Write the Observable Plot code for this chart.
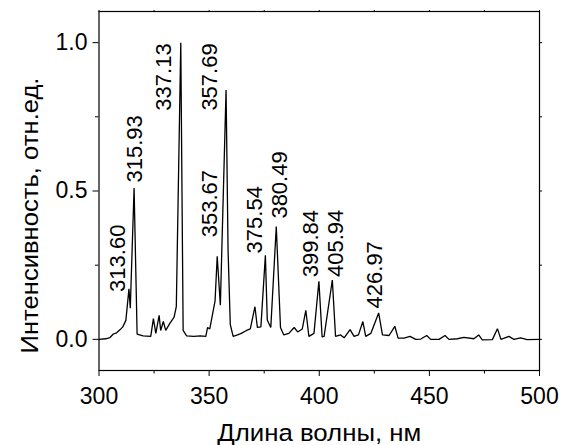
<!DOCTYPE html>
<html>
<head>
<meta charset="utf-8">
<script src="https://cdn.jsdelivr.net/npm/d3@7"></script>
<script src="https://cdn.jsdelivr.net/npm/@observablehq/plot@0.6"></script>
<style>
  html, body { margin: 0; padding: 0; background: #fff; }
</style>
</head>
<body>
<div id="chart"></div>
<script>
// Emission spectrum: wavelength (nm) and relative intensity
const wavelength = [
  300, 303, 305, 306.5, 308, 309.5, 310.8, 312.2, 313.60, 314.2,
  315.93, 317.3, 320, 323.5, 324.7, 325.8, 327.3, 328.0, 329.2, 330.3,
  332.1, 334.1, 335.1, 337.13, 338.2, 339.8, 343, 346, 348.5, 349.3,
  350.3, 352.7, 353.67, 355.1, 357.69, 358.6, 359.6, 360.9, 362.9, 364.6,
  367, 368.7, 370.8, 371.9, 373.5, 375.54, 376.4, 378.0, 380.49, 382.4,
  383.9, 386.2, 388.6, 390.2, 392.3, 393.9, 395.3, 397.6, 399.84, 401.3,
  402.2, 405.94, 407.4, 409.7, 411.3, 414.0, 415.8, 417.8, 419.8, 421.1,
  423.4, 426.97, 428.7, 431.7, 434.3, 435.8, 438.5, 441.2, 443.8, 446.1,
  448.8, 450.6, 454.4, 457.1, 458.9, 462.7, 465.7, 470.2, 472.4, 474.0,
  478.6, 480.9, 482.5, 486.1, 488.4, 491.4, 494.4, 500
];
const intensity = [
  0.000, 0.002, 0.006, 0.018, 0.022, 0.032, 0.042, 0.064, 0.170, 0.105,
  0.510, 0.018, 0.012, 0.010, 0.070, 0.020, 0.081, 0.030, 0.060, 0.030,
  0.053, 0.075, 0.110, 1.000, 0.030, 0.012, 0.010, 0.012, 0.010, 0.040,
  0.035, 0.130, 0.280, 0.115, 0.840, 0.300, 0.050, 0.010, 0.015, 0.020,
  0.030, 0.035, 0.110, 0.040, 0.042, 0.283, 0.065, 0.040, 0.380, 0.040,
  0.015, 0.020, 0.040, 0.025, 0.035, 0.098, 0.010, 0.020, 0.196, 0.008,
  0.010, 0.200, 0.010, 0.015, 0.005, 0.033, 0.010, 0.015, 0.060, 0.010,
  0.020, 0.089, 0.015, 0.013, 0.044, 0.004, 0.004, 0.010, 0.000, 0.001,
  0.013, 0.000, 0.000, 0.013, 0.000, 0.002, 0.007, 0.002, 0.015, -0.002,
  -0.001, 0.036, 0.000, 0.010, 0.000, 0.005, -0.001, 0.000
];

// Labelled emission lines (nm)
const peakWavelengths = [313.60, 315.93, 337.13, 353.67, 357.69, 375.54, 380.49, 399.84, 405.94, 426.97];

// Axis ticks
const xTicks = [300, 350, 400, 450, 500];
const xMinorTicks = [325, 375, 425, 475];
const yTicks = [0, 0.5, 1.0];
const yMinorTicks = [0.25, 0.75];

// Text
const xTitle = "Длина волны, нм";
const yTitle = "Интенсивность, отн.ед.";

// Label placement relative to each peak top, in pixels [dx, dy]
const labelShift = [
  [-11, 3], [1, -5.5], [-17, 68], [-7, -19], [-16, 20.5],
  [-10, -2], [3.5, -8], [-7.5, -4], [3.5, -3], [-4, -4.5]
];

const spectrum = wavelength.map((w, i) => ({w, v: intensity[i]}));
const peaks = peakWavelengths.map(w => ({w, v: spectrum.find(d => d.w === w).v}));

const FONT = "'Liberation Sans', Arial, Helvetica, sans-serif";
const noText = () => "";

const chart = Plot.plot({
  width: 562,
  height: 445,
  marginLeft: 98.5,
  marginRight: 23,
  marginTop: 11,
  marginBottom: 75,
  style: {fontFamily: FONT, fontSize: "22px", background: "#fff", color: "#000"},
  x: {domain: [300, 500], label: null},
  y: {domain: [-0.105, 1.105], label: null},
  marks: [
    Plot.frame({stroke: "#000", strokeWidth: 1.2}),
    // bottom axis
    Plot.axisX({ticks: xTicks, tickSize: 6, tickPadding: 11, fontSize: 23, label: null}),
    Plot.axisX({ticks: xMinorTicks, tickSize: 3.5, tickFormat: noText, label: null}),
    // mirrored top ticks
    Plot.axisX({anchor: "top", ticks: [...xTicks, ...xMinorTicks], tickSize: 2, tickFormat: noText, label: null}),
    // left axis
    Plot.axisY({ticks: yTicks, tickSize: 6, tickPadding: 5.5, fontSize: 23, tickFormat: d => d.toFixed(1), label: null}),
    Plot.axisY({ticks: yMinorTicks, tickSize: 3.5, tickFormat: noText, label: null}),
    // mirrored right ticks
    Plot.axisY({anchor: "right", ticks: [...yTicks, ...yMinorTicks], tickSize: 2, tickFormat: noText, label: null}),
    // spectrum
    Plot.line(spectrum, {x: "w", y: "v", stroke: "#000", strokeWidth: 1.3, strokeLinejoin: "miter"}),
    // peak labels
    ...peaks.map((p, i) => Plot.text([p], {
      x: "w", y: "v",
      text: d => d.w.toFixed(2),
      rotate: -90,
      textAnchor: "start",
      lineAnchor: "middle",
      dx: labelShift[i][0],
      dy: labelShift[i][1],
      fontSize: 22,
      fill: "#000"
    })),
    // axis titles
    Plot.text([xTitle], {text: d => d, frameAnchor: "bottom", textAnchor: "middle", dy: 63, lineAnchor: "middle", fontSize: 24.5, fill: "#000"}),
    Plot.text([yTitle], {text: d => d, frameAnchor: "left", textAnchor: "middle", rotate: -90, dx: -68.5, dy: 24.5, lineAnchor: "middle", fontSize: 24.5, fill: "#000"})
  ]
});

// fit the axis titles to their drawn lengths
d3.select(chart).selectAll("text")
  .filter(function() { return this.textContent === xTitle; })
  .attr("textLength", 204).attr("lengthAdjust", "spacingAndGlyphs");
d3.select(chart).selectAll("text")
  .filter(function() { return this.textContent === yTitle; })
  .attr("textLength", 276).attr("lengthAdjust", "spacingAndGlyphs");

document.getElementById("chart").appendChild(chart);
</script>
</body>
</html>
